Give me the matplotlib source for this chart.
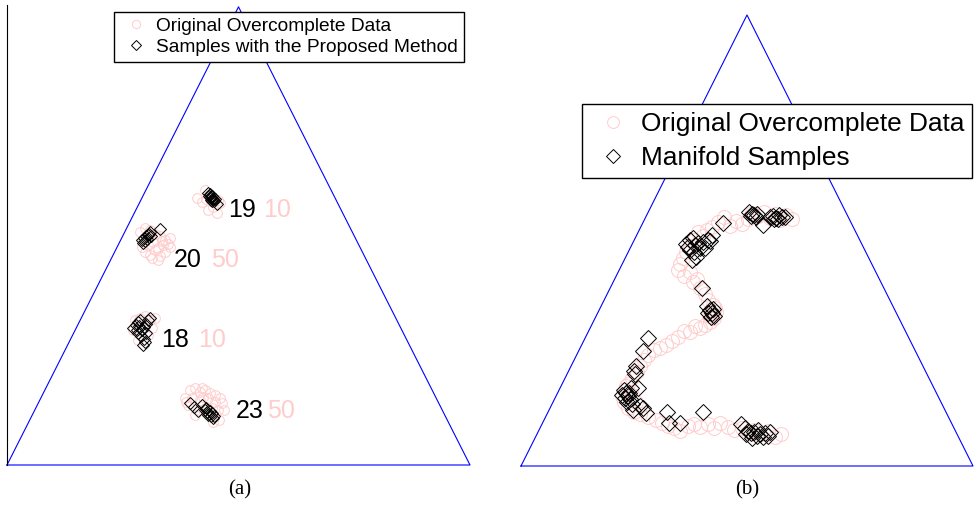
import matplotlib.pyplot as plt

plt.rcParams['font.family'] = ['Liberation Sans', 'DejaVu Sans']

PINK = (1.0, 0.8, 0.8)

# simplex corners (x, y) in percent units
tri_x = [0, 100, 50, 0]
tri_y = [0, 0, 100, 0]

# ---- (a) four clusters ----
orig_a_x = [41.0, 42.8, 43.8, 45.6, 43.4, 45.4, 46.0, 42.1, 44.5, 43.0,
            28.7, 29.8, 30.9, 32.0, 33.0, 34.1, 35.2, 29.4, 30.5, 31.5, 32.6, 33.7,
            34.8, 29.8, 30.9, 32.0, 33.0, 34.1, 32.6, 31.3, 30.2, 33.5, 35.2, 29.2,
            27.6, 28.7, 29.8, 30.9, 27.2, 32.0, 28.3, 30.5, 31.3,
            38.4, 39.5, 40.6, 41.7, 42.8, 43.8, 44.9, 46.0, 46.4, 45.6, 44.3, 39.1,
            40.6, 41.7, 42.3, 43.4, 44.9, 46.9, 45.8, 41.5, 40.0, 38.7, 42.1, 44.5]
orig_a_y = [58.3, 60.0, 58.9, 57.9, 55.7, 55.0, 57.2, 57.4, 56.3, 58.1,
            50.9, 51.7, 51.3, 50.4, 50.0, 49.1, 49.6, 49.1, 48.0, 48.7, 47.4, 48.0,
            48.2, 46.5, 45.8, 46.9, 45.6, 46.5, 44.8, 45.2, 50.0, 48.9, 47.6, 47.6,
            31.7, 32.1, 32.5, 31.7, 29.5, 32.1, 27.3, 28.4, 29.9,
            14.6, 16.4, 16.8, 15.9, 16.4, 15.7, 15.3, 14.6, 13.5, 12.0, 12.4, 13.1,
            10.9, 14.2, 14.8, 14.6, 13.8, 12.0, 9.8, 12.0, 14.6, 13.8, 16.8, 9.4]

samp_a_x = [43.4, 43.6, 43.8, 44.1, 44.3, 44.5, 44.1, 44.7, 44.9, 45.4, 43.8, 44.3,
            29.2, 29.6, 30.0, 30.5, 29.8, 30.2, 30.7, 30.9, 29.4, 31.1, 33.0,
            27.2, 27.9, 28.3, 28.7, 29.2, 29.6, 30.0, 28.3, 28.9, 29.6, 30.0, 30.5,
            30.9, 29.4, 28.1, 29.8, 28.5,
            39.5, 40.4, 41.3, 42.1, 42.8, 43.2, 43.6, 44.1, 44.5, 43.0, 43.8, 44.3,
            43.4, 44.7]
samp_a_y = [59.4, 58.7, 59.2, 58.3, 58.7, 58.1, 57.9, 57.6, 58.1, 57.0, 58.5, 57.6,
            49.1, 49.6, 50.0, 50.2, 48.9, 49.3, 50.4, 50.9, 48.5, 50.0, 51.5,
            29.9, 30.6, 31.2, 31.7, 29.5, 30.1, 30.8, 28.8, 28.2, 27.5, 28.8, 31.7,
            32.1, 26.2, 29.5, 26.9, 30.3,
            13.5, 12.7, 11.8, 13.1, 12.0, 11.6, 11.1, 10.7, 10.3, 12.4, 11.8, 11.4,
            10.9, 10.7]

# cluster annotations: index, size, anchor
ann_index = ['19', '20', '18', '23']
ann_size = ['10', '50', '10', '50']
ann_x = [47.7, 36.1, 33.3, 49.5]
ann_size_x = [55.3, 44.1, 41.3, 56.2]
ann_y = [55.7, 44.8, 27.3, 11.8]

# ---- (b) S-shaped manifold ----
orig_b_x = [59.9, 58.6, 57.3, 56.2, 55.1, 53.8, 52.4, 51.1, 50.2, 48.9, 47.6, 46.2,
            44.9, 43.6, 42.2, 41.1, 40.3, 39.2, 38.3, 37.4, 36.5, 35.8, 35.2, 34.7,
            36.1, 37.4, 38.0, 38.9, 39.6, 40.7, 41.4, 42.5, 43.1, 42.7, 41.8, 40.7,
            39.6, 38.5, 37.4, 36.1, 34.7, 33.4, 32.1, 30.7, 29.4, 28.1, 27.2, 26.3,
            25.7, 24.6, 23.7, 23.0, 22.3, 22.8, 23.7, 25.0, 26.3, 28.1, 29.9, 31.2,
            32.5, 33.8, 35.2, 36.9, 38.3, 39.6, 41.4, 42.7, 44.0, 45.8, 47.1, 48.9,
            50.2, 51.5, 52.9, 54.6, 56.2, 57.5, 42.2, 42.9, 41.6, 23.2, 24.6, 25.4]
orig_b_y = [54.8, 55.6, 54.5, 55.9, 55.0, 56.3, 55.4, 56.1, 54.8, 53.7, 54.3, 53.2,
            55.2, 54.1, 53.0, 52.3, 51.0, 51.9, 50.1, 48.8, 47.4, 46.1, 44.8, 43.5,
            42.1, 43.0, 40.8, 41.5, 39.5, 38.1, 36.8, 35.7, 34.1, 32.8, 31.9, 31.3,
            30.6, 31.0, 29.7, 29.9, 28.6, 27.7, 26.8, 26.2, 25.7, 24.6, 23.5, 22.2,
            20.8, 19.5, 18.2, 16.8, 15.5, 14.2, 12.9, 12.0, 11.5, 10.9, 10.2, 9.5,
            8.9, 8.4, 7.8, 8.9, 9.3, 8.6, 9.3, 8.4, 9.5, 8.6, 8.0, 8.4,
            7.5, 8.0, 7.1, 7.8, 6.4, 7.1, 33.7, 35.0, 33.3, 17.7, 15.7, 14.2]

samp_b_x = [50.4, 51.1, 51.5, 52.0, 50.9, 52.2, 55.1, 55.7, 56.4, 57.1, 57.7, 56.8,
            56.0, 58.4, 53.5, 44.7, 42.2, 41.8,
            36.5, 37.4, 38.0, 38.5, 39.2, 37.4, 38.3, 39.6, 40.3, 36.9, 38.7, 37.8,
            40.7, 41.4,
            40.0, 41.1, 41.8, 42.2, 42.7, 41.4, 42.0, 42.5,
            28.1, 27.0, 25.4, 25.0, 25.2,
            22.8, 23.2, 23.7, 23.0, 24.1, 23.4, 24.6, 23.9, 22.3, 24.3, 25.9, 24.8,
            27.0, 27.7, 26.3,
            32.3, 32.7, 35.2, 40.3,
            48.7, 49.6, 50.2, 50.9, 51.5, 52.2, 52.9, 53.5, 52.4, 54.0, 54.6, 49.8,
            51.1, 55.1]
samp_b_y = [56.3, 55.9, 55.6, 55.2, 55.4, 55.9, 55.2, 55.4, 55.0, 55.6, 55.2, 54.8,
            54.8, 55.2, 53.4, 53.9, 51.2, 49.9,
            49.2, 50.1, 50.5, 49.0, 49.4, 47.9, 47.4, 48.3, 49.7, 48.6, 46.3, 45.7,
            48.3, 50.1,
            39.5, 35.5, 34.6, 33.9, 33.3, 33.9, 33.0, 34.8,
            28.4, 25.5, 22.2, 21.1, 20.4,
            16.8, 16.2, 15.5, 15.1, 14.9, 14.2, 13.7, 16.2, 15.7, 17.3, 17.3, 12.4,
            12.9, 11.8, 13.3,
            12.0, 9.5, 9.5, 12.0,
            9.3, 8.4, 7.8, 7.3, 7.5, 6.7, 7.1, 6.4, 8.0, 7.3, 6.7, 7.1,
            6.2, 7.5]

fig = plt.figure(figsize=(9.74, 5.08), dpi=100)

# left panel
ax1 = fig.add_axes([7 / 974, 43 / 508, 463 / 974, 460 / 508])
ax1.plot(tri_x, tri_y, color='blue', lw=0.8, clip_on=False)
h1, = ax1.plot(orig_a_x, orig_a_y, 'o', ms=7, mfc='none', mec=PINK, mew=0.7,
               label='Original Overcomplete Data')
h2, = ax1.plot(samp_a_x, samp_a_y, 'D', ms=6, mfc='none', mec='black', mew=0.7,
               label='Samples with the Proposed Method')
for lab, cnt, x, xc, y in zip(ann_index, ann_size, ann_x, ann_size_x, ann_y):
    ax1.text(x, y, lab, fontsize=18, color='black', ha='left', va='center')
    ax1.text(xc, y, cnt, fontsize=18, color=PINK, ha='left', va='center')
ax1.set_xlim(0, 100)
ax1.set_ylim(0, 100.4)
ax1.set_xticks([])
ax1.set_yticks([])
for side in ['top', 'right', 'bottom']:
    ax1.spines[side].set_visible(False)
ax1.spines['left'].set_linewidth(0.8)
leg1 = ax1.legend(handles=[h1, h2], loc='upper right',
                  bbox_to_anchor=(464 / 974, 1 - 12 / 508),
                  bbox_transform=fig.transFigure, borderaxespad=0,
                  fontsize=13.8, frameon=True, fancybox=False, framealpha=1,
                  edgecolor='black', borderpad=0.3, handlelength=1.7,
                  handletextpad=0.2, labelspacing=0.18, markerscale=0.85)
leg1.get_frame().set_linewidth(1.0)

# right panel
ax2 = fig.add_axes([521 / 974, 42 / 508, 452 / 974, 451 / 508])
ax2.plot(tri_x, tri_y, color='blue', lw=0.8, clip_on=False)
g1, = ax2.plot(orig_b_x, orig_b_y, 'o', ms=10, mfc='none', mec=PINK, mew=0.7,
               label='Original Overcomplete Data')
g2, = ax2.plot(samp_b_x, samp_b_y, 'D', ms=8, mfc='none', mec='black', mew=0.7,
               label='Manifold Samples')
ax2.set_xlim(0, 100)
ax2.set_ylim(0, 100)
ax2.axis('off')
leg2 = ax2.legend(handles=[g1, g2], loc='upper right',
                  bbox_to_anchor=(972 / 974, 1 - 104 / 508),
                  bbox_transform=fig.transFigure, borderaxespad=0,
                  fontsize=18.9, frameon=True, fancybox=False, framealpha=1,
                  edgecolor='black', borderpad=0.3, handlelength=1.8,
                  handletextpad=0.15, labelspacing=0.4, markerscale=0.85)
leg2.get_frame().set_linewidth(1.0)

fig.text(240 / 974, 1 - 490 / 508, '(a)', family=['Liberation Serif'],
         fontsize=15, ha='center', va='center')
fig.text(747 / 974, 1 - 490 / 508, '(b)', family=['Liberation Serif'],
         fontsize=15, ha='center', va='center')

fig.savefig('out.png', dpi=100)
